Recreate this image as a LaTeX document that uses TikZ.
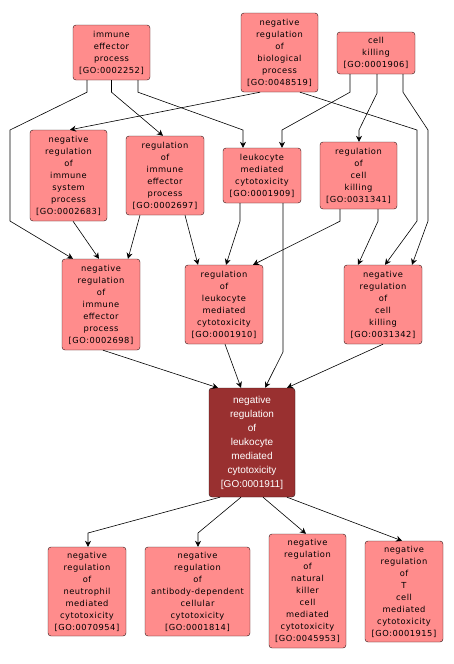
\documentclass[tikz,border=0pt]{standalone}
\usepackage{fontspec}
\setmainfont{DejaVu Sans}
\newfontfamily\gofont[LetterSpace=6]{DejaVu Sans}
\newfontfamily\focusfont{Liberation Sans}
\usetikzlibrary{arrows.meta}
\definecolor{termfill}{RGB}{255,140,140}
\definecolor{focusfill}{RGB}{153,48,48}
\definecolor{termdraw}{RGB}{45,20,20}
\tikzstyle{term}  = [rectangle, draw=termdraw, rounded corners=3pt, fill=termfill, align=center, inner sep=0pt, font=\gofont\fontsize{8.3}{12}\selectfont, minimum width=78pt]
\tikzstyle{focus} = [rectangle, draw=termdraw, rounded corners=3pt, fill=focusfill, text=white, align=center, inner sep=0pt, font=\focusfont\fontsize{10}{14}\selectfont, minimum width=86pt]
\tikzstyle{flow} = [draw, semithick, -{Stealth[length=6pt,width=6pt]}]

\begin{document}
\begin{tikzpicture}[x=1pt, y=-1pt]
            \useasboundingbox (0,0) rectangle (454,664);
            % top row
            \node[term, minimum width=77pt, minimum height=55pt] (iep) at (111.5,52.5) {immune\\effector\\process\\{[GO:0002252]}};
            \node[term, minimum width=77pt, minimum height=79pt] (nrbp) at (279.5,52.5) {negative\\regulation\\of\\biological\\process\\{[GO:0048519]}};
            \node[term, minimum height=42pt] (ck) at (376,53) {cell\\killing\\{[GO:0001906]}};
            % second row
            \node[term, minimum width=77pt, minimum height=91pt] (nris) at (68.5,175.5) {negative\\regulation\\of\\immune\\system\\process\\{[GO:0002683]}};
            \node[term, minimum height=79pt] (riep) at (165,175.5) {regulation\\of\\immune\\effector\\process\\{[GO:0002697]}};
            \node[term, minimum height=55pt] (lmc) at (262,175.5) {leukocyte\\mediated\\cytotoxicity\\{[GO:0001909]}};
            \node[term, minimum width=77pt, minimum height=67pt] (rck) at (358.5,175.5) {regulation\\of\\cell\\killing\\{[GO:0031341]}};
            % third row
            \node[term, minimum height=91pt] (nriep) at (101,304.5) {negative\\regulation\\of\\immune\\effector\\process\\{[GO:0002698]}};
            \node[term, minimum height=79pt] (rlmc) at (224,304.5) {regulation\\of\\leukocyte\\mediated\\cytotoxicity\\{[GO:0001910]}};
            \node[term, minimum height=79pt] (nrck) at (383,304.5) {negative\\regulation\\of\\cell\\killing\\{[GO:0031342]}};
            % the term itself
            \node[focus, minimum height=109pt] (nrlmc) at (252,442.5) {negative\\regulation\\of\\leukocyte\\mediated\\cytotoxicity\\{[GO:0001911]}};
            % children
            \node[term, minimum height=89pt] (nrnmc) at (87,591.5) {negative\\regulation\\of\\neutrophil\\mediated\\cytotoxicity\\{[GO:0070954]}};
            \node[term, minimum width=105pt, minimum height=89pt] (nradcc) at (197.5,591.5) {negative\\regulation\\of\\antibody-dependent\\cellular\\cytotoxicity\\{[GO:0001814]}};
            \node[term, minimum width=77pt, minimum height=114pt] (nrnk) at (307.5,591) {negative\\regulation\\of\\natural\\killer\\cell\\mediated\\cytotoxicity\\{[GO:0045953]}};
            \node[term, minimum height=101pt] (nrtc) at (404,591.5) {negative\\regulation\\of\\T\\cell\\mediated\\cytotoxicity\\{[GO:0001915]}};

            \path [flow] ([xshift=-24.5pt]iep.south) -- ++(0,12) -- (10,130) -- (10,221) -- ([xshift=-28pt]nriep.north);
            \path [flow] (iep.south) -- ++(0,12) -- ([xshift=-2pt]riep.north);
            \path [flow] ([xshift=26.5pt]iep.south) -- ++(0,12) -- (243,130) -- ([xshift=-19pt]lmc.north);
            \path [flow] ([xshift=-19.5pt]nrbp.south) -- ([xshift=1.5pt]nris.north);
            \path [flow] ([xshift=20.5pt]nrbp.south) -- (417,130) -- (417,221) -- ([xshift=2pt]nrck.north);
            \path [flow] ([xshift=-26pt]ck.south) -- ++(0,18) -- (282,130) -- ([xshift=20pt]lmc.north);
            \path [flow] ([xshift=1pt]ck.south) -- ++(0,19) -- (359,130) -- ([xshift=0.5pt]rck.north);
            \path [flow] ([xshift=27pt]ck.south) -- ++(0,18) -- (428,130) -- (428,221) -- ([xshift=29pt]nrck.north);
            \path [flow] ([xshift=4.5pt]nris.south) -- ([xshift=-2pt]nriep.north);
            \path [flow] ([xshift=-25pt]riep.south) -- ([xshift=27pt]nriep.north);
            \path [flow] ([xshift=20pt]riep.south) -- ([xshift=-26pt]rlmc.north);
            \path [flow] ([xshift=-22pt]lmc.south) -- ++(0,18) -- ([xshift=2pt]rlmc.north);
            \path [flow] ([xshift=21pt]lmc.south) -- (283,352) -- ([xshift=13pt]nrlmc.north);
            \path [flow] ([xshift=-18.5pt]rck.south) -- ++(0,12) -- ([xshift=29pt]rlmc.north);
            \path [flow] ([xshift=19.5pt]rck.south) -- ++(0,12) -- ([xshift=-25pt]nrck.north);
            \path [flow] ([xshift=2pt]nriep.south) -- ([xshift=-34pt]nrlmc.north);
            \path [flow] ([xshift=1pt]rlmc.south) -- ([xshift=-11pt]nrlmc.north);
            \path [flow] (nrck.south) -- ([xshift=35pt]nrlmc.north);
            \path [flow] ([xshift=-32pt]nrlmc.south) -- (88,533) -- ([xshift=1pt]nrnmc.north);
            \path [flow] ([xshift=-11pt]nrlmc.south) -- (198,533) -- ([xshift=0.5pt]nradcc.north);
            \path [flow] ([xshift=11pt]nrlmc.south) -- ([xshift=-1.5pt]nrnk.north);
            \path [flow] ([xshift=35pt]nrlmc.south) -- ([xshift=-2pt]nrtc.north);
        \end{tikzpicture}
\end{document}
